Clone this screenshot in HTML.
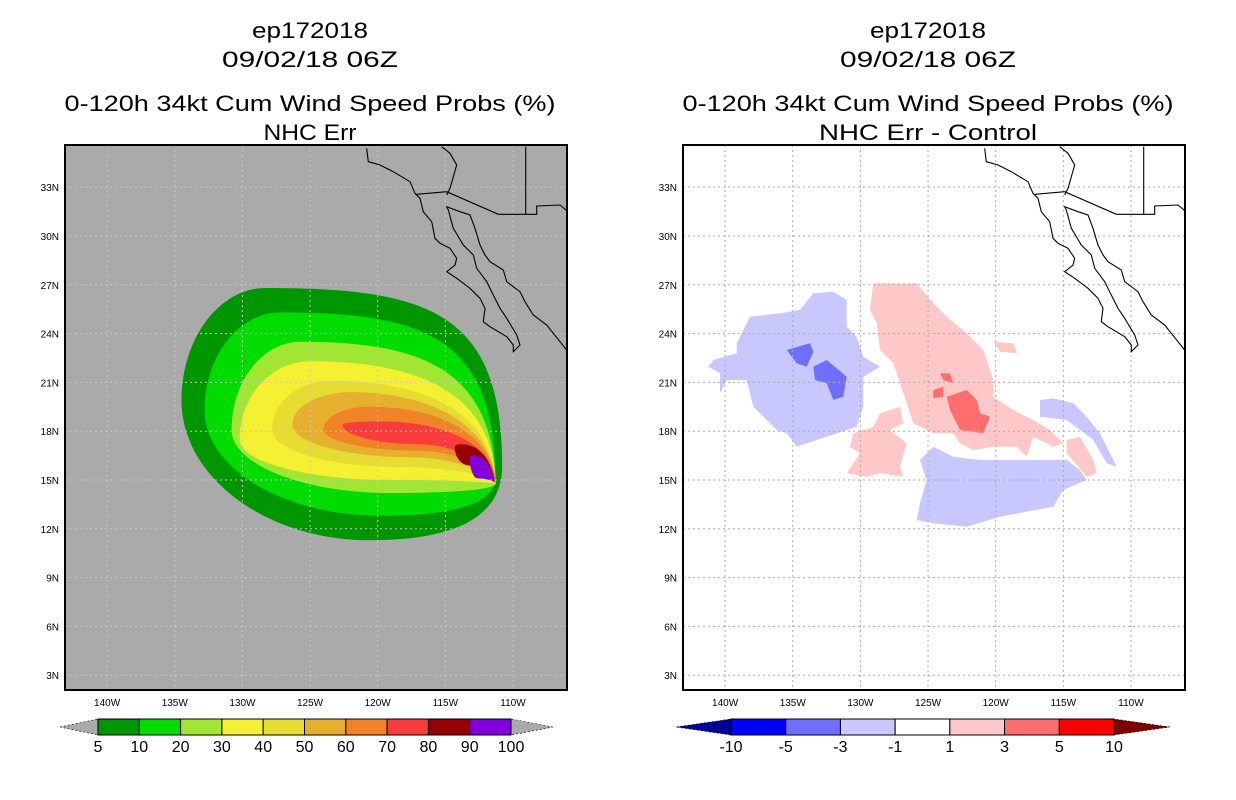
<!DOCTYPE html>
<html><head><meta charset="utf-8"><style>
body{margin:0;background:#fff;}
svg{display:block;font-family:"Liberation Sans",sans-serif;}
</style></head><body>
<svg id="chart" width="1236" height="800" viewBox="0 0 1236 800"></svg>
<script>
// ---- data ----
const latTicks = [33,30,27,24,21,18,15,12,9,6,3];
const lonTicks = [140,135,130,125,120,115,110];
const probLevels = ["5","10","20","30","40","50","60","70","80","90","100"];
const probColors = ["#009600","#00dc00","#a0e632","#f5f032","#e6dc32","#e6af2d","#f08228","#fa3c3c","#960000","#8200dc"];
const diffLevels = ["-10","-5","-3","-1","1","3","5","10"];
const diffColors = ["#000096","#0000ff","#6e6eff","#c8c8ff","#ffffff","#ffc8c8","#ff6e6e","#ff0000","#7d0000"];
// contour shapes per level
const contourLevels = [5,10,20,30,40,50,60,70,80,90];
const contourLeftLon = [134.5,132.8,130.8,130.2,127.8,126.3,124.0,122.6,114.3,113.2];
const contourLeftLat = [19.9,19.3,18.1,17.5,18.1,18.4,18.1,18.4,17.0,16.4];
const contourTopLon  = [128.3,127.2,125.7,125.0,123.5,122.0,120.6,119.8,113.9,113.0];
const contourTopLat  = [26.8,25.3,23.5,22.3,21.1,20.4,19.5,18.6,17.2,16.5];
const contourBotLon  = [120.6,119.8,119.1,119.1,118.4,117.6,116.9,116.9,113.2,112.6];
const contourBotLat  = [11.3,12.8,14.2,15.0,15.8,16.4,16.8,17.2,15.9,15.1];
const contourTipLon  = [110.8,111.3,111.3,111.26,111.26,111.26,111.26,111.3,111.35,111.35];
const contourTipLat  = [15.9,15.1,14.75,14.75,14.75,14.75,14.75,14.85,14.85,14.85];
const contourRound   = [0.55,0.5,0.35,0.2,0.1,0,0,0,0,0];

// ---- axes ----
const PANELS=[{x0:65,name:"left"},{x0:683,name:"right"}];
const PW=502, PY0=145, PH=545;
function xOf(lonW,p){return p.x0 + 448 - (lonW-110)*13.53;}
function yOf(lat){return 480 - (lat-15)*16.27;}

const NS="http://www.w3.org/2000/svg";
const svg=document.getElementById('chart');
function mk(tag,attrs,parent){const e=document.createElementNS(NS,tag);for(const k in attrs)e.setAttribute(k,attrs[k]);(parent||svg).appendChild(e);return e;}

function txt(s,x,y,size,anchor,parent,len){
  const e=mk('text',{x:x,y:y,'font-size':size,'text-anchor':anchor||'middle',fill:'#000'},parent);
  if(len){e.setAttribute('textLength',len);e.setAttribute('lengthAdjust','spacingAndGlyphs');}
  e.textContent=s;return e;
}

const titles=[["ep172018","09/02/18 06Z","0-120h 34kt Cum Wind Speed Probs (%)","NHC Err"],
              ["ep172018","09/02/18 06Z","0-120h 34kt Cum Wind Speed Probs (%)","NHC Err - Control"]];
const titleLens=[[116,176,491,93],[116,176,491,218]];
const titleY=[38,67,111,140];
const titleNames=["storm-id-title","date-title","product-title","subtitle"];
PANELS.forEach((p,i)=>{
  const cx=p.x0+PW/2-6;
  titles[i].forEach((t,j)=>{
    const e=txt(t,cx,titleY[j],22,'middle',svg,titleLens[i][j]);
    
    
  });
});

const coastW=[[20,10],[25,50],[60,60],[100,80],[150,110],[165,145],[180,160],[190,200],[215,230],[225,280],[240,295],[270,310],[290,340],[285,360],[260,380],[290,400],[330,430],[360,460],[375,490],[370,530],[390,545],[440,575],[460,600],[460,620],[480,600],[470,570],[440,520],[420,490],[400,450],[380,410],[350,370],[340,330],[310,300],[280,250],[265,195],[260,185],[300,200],[330,210],[345,250],[360,300],[375,330],[390,350],[430,375],[440,410],[480,440],[495,470],[520,510],[560,540],[600,590],[624,620]];
const border1=[[170,148],[260,140],[415,208],[530,208],[530,183],[600,180],[624,200]];
const border2=[[497,5],[497,208]];
const border3=[[245,5],[270,25],[290,60],[270,130],[260,150]];
function zp(pts,p){return pts.map(q=>(p.x0-65+360+q[0]/3).toFixed(1)+','+(145+q[1]/3).toFixed(1)).join(' ');}

function drawPanel(p,i){
  const g=mk('g',{});
  
  
  const clipId='clip'+i;
  const cp=mk('clipPath',{id:clipId},g);mk('rect',{x:p.x0,y:PY0,width:PW,height:PH},cp);
  const bg=mk('rect',{x:p.x0,y:PY0,width:PW,height:PH,fill:i===0?'#aaaaaa':'#ffffff'},g);
  
  
  const inner=mk('g',{'clip-path':'url(#'+clipId+')'},g);
  if(i===0){
    contourLevels.forEach((lv,k)=>{
      const L=[xOf(contourLeftLon[k],p),yOf(contourLeftLat[k])];
      const T=[xOf(contourTopLon[k],p),yOf(contourTopLat[k])];
      const B=[xOf(contourBotLon[k],p),yOf(contourBotLat[k])];
      const P=[xOf(contourTipLon[k],p),yOf(contourTipLat[k])];
      const r=contourRound[k];
      const hT=L[1]-T[1], hB=B[1]-L[1];
      const c1y=P[1]-(P[1]-T[1])*(0.7+0.3*r), c1x=P[0]-4+6*r;
      const c2x=T[0]+(P[0]-T[0])*(0.5+0.35*r);
      const c3y=P[1]+(B[1]-P[1])*(0.4+0.5*r), c3x=P[0]-2+4*r;
      const c4x=B[0]+(P[0]-B[0])*(0.5+0.3*r);
      const d=`M${P[0]},${P[1]} C${c1x},${c1y} ${c2x},${T[1]} ${T[0]},${T[1]} C${T[0]-(T[0]-L[0])*0.55},${T[1]} ${L[0]},${L[1]-hT*0.55} ${L[0]},${L[1]} C${L[0]},${L[1]+hB*0.55} ${B[0]-(B[0]-L[0])*0.55},${B[1]} ${B[0]},${B[1]} C${c4x},${B[1]} ${c3x},${c3y} ${P[0]},${P[1]}Z`;
      const e=mk('path',{d:d,fill:probColors[k]},inner);
      
      
    });
  } else {
    const blobs=[
      ['#c8c8ff','neg-1-west',[[150,110],[240,100],[300,90],[340,40],[400,35],[440,60],[440,140],[470,170],[490,230],[540,260],[490,290],[490,380],[470,440],[380,470],[290,500],[260,460],[230,450],[160,380],[140,300],[80,300],[60,340],[60,280],[25,260],[40,240],[110,220],[110,190]]],
      ['#c8c8ff','neg-1-south',[[660,540],[700,500],[760,530],[840,540],[930,540],[1100,540],[1140,570],[1160,600],[1090,630],[1060,680],[900,710],[800,740],[700,730],[650,720],[660,670],[680,600]]],
      ['#c8c8ff','neg-1-east',[[1020,360],[1060,355],[1120,370],[1160,410],[1200,460],[1250,560],[1220,550],[1180,480],[1100,420],[1020,410]]],
      ['#6e6eff','neg-3-a',[[260,210],[330,190],[340,215],[320,260],[290,250]]],
      ['#6e6eff','neg-3-b',[[340,260],[380,240],[440,290],[430,350],[400,360],[380,310],[345,300]]],
      ['#ffc8c8','pos-1-central',[[520,10],[650,10],[700,70],[740,110],[800,160],[850,210],[880,300],[880,350],[940,390],[1000,420],[1050,450],[1090,490],[1060,500],[1000,470],[980,530],[950,500],[880,500],[820,510],[780,490],[760,460],[700,460],[640,430],[620,370],[600,310],[580,250],[540,210],[530,130],[510,90]]],
      ['#ffc8c8','pos-1-southwest',[[460,460],[520,440],[540,400],[600,380],[610,430],[570,450],[620,490],[600,560],[610,590],[540,580],[500,590],[440,580],[480,520],[450,500]]],
      ['#ffc8c8','pos-1-east',[[1100,480],[1140,470],[1180,540],[1190,580],[1160,590],[1100,520]]],
      ['#ffc8c8','pos-1-small',[[880,185],[940,190],[950,220],[900,215]]],
      ['#ff6e6e','pos-3-main',[[740,350],[800,330],[830,360],[840,400],[870,410],[850,460],[780,450],[750,390]]],
      ['#ff6e6e','pos-3-b',[[700,330],[730,320],[730,350],[700,355]]],
      ['#ff6e6e','pos-3-c',[[720,280],[750,280],[760,310],[730,300]]]
    ];
    blobs.forEach(b=>{
      const pts=b[2].map(q=>(700+q[0]/3).toFixed(1)+','+(280+q[1]/3).toFixed(1)).join(' ');
      const e=mk('polygon',{points:pts,fill:b[0]},inner);
      
      
    });
  }
  const gridCol=i===0?'#c8c8c8':'#aaaaaa';
  lonTicks.forEach(l=>{
    const x=xOf(l,p);
    const e=mk('line',{x1:x,x2:x,y1:PY0,y2:PY0+PH,stroke:gridCol,'stroke-width':1,'stroke-dasharray':'2,3'},inner);
    
    
    const t=txt(l+'W',x,706,10,'middle',g);
    
    
  });
  latTicks.forEach(l=>{
    const y=yOf(l);
    const e=mk('line',{x1:p.x0,x2:p.x0+PW,y1:y,y2:y,stroke:gridCol,'stroke-width':1,'stroke-dasharray':'2,3'},inner);
    
    
    const t=txt(l+'N',p.x0-6,y+4,10,'end',g);
    
    
  });
  [coastW,border1,border2,border3].forEach((c,k)=>{
    const e=mk('polyline',{points:zp(c,p),fill:'none',stroke:'#000','stroke-width':1.1},inner);
    
    
  });
  const fr=mk('rect',{x:p.x0,y:PY0,width:PW,height:PH,fill:'none',stroke:'#000','stroke-width':2},g);
  
  
}
PANELS.forEach(drawPanel);

function colorbar(x0,x1,tipL,tipR,labels,name,triL,triR,boxColors){
  const g=mk('g',{});
  
  
  const y0=719,y1=735,ym=727;
  const n=boxColors.length, w=(x1-x0)/n;
  const l=mk('polygon',{points:`${tipL},${ym} ${x0},${y0} ${x0},${y1}`,fill:triL,stroke:'#000','stroke-width':0.6,'stroke-dasharray':'2,2'},g);
  
  
  const r=mk('polygon',{points:`${tipR},${ym} ${x1},${y0} ${x1},${y1}`,fill:triR,stroke:'#000','stroke-width':0.6,'stroke-dasharray':'2,2'},g);
  
  
  boxColors.forEach((c,k)=>{
    const e=mk('rect',{x:x0+k*w,y:y0,width:w,height:y1-y0,fill:c,stroke:'#000','stroke-width':1},g);
    
    
  });
  labels.forEach((s,k)=>{
    const e=txt(s,x0+k*w,752,16,'middle',g);
    
    
  });
}
colorbar(98,511,60,553,probLevels,'probability-colorbar','#aaaaaa','#aaaaaa',probColors);
colorbar(731,1114,676,1170,diffLevels,'difference-colorbar',diffColors[0],diffColors[8],diffColors.slice(1,8));
</script>
</body></html>
